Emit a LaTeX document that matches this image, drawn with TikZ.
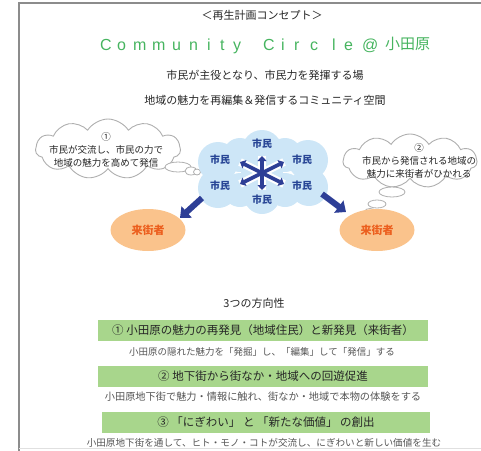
\documentclass[tikz,border=0pt]{standalone}
\usepackage{fontspec}
\setmainfont{Noto Sans CJK JP}
\newfontfamily\arialfont{Liberation Sans}
\usetikzlibrary{shapes.geometric,shapes.symbols,arrows.meta}
\definecolor{framegray}{RGB}{140,140,140}
\definecolor{cloudline}{RGB}{175,175,175}
\definecolor{cloudblue}{RGB}{205,230,247}
\definecolor{citizen}{RGB}{40,70,150}
\definecolor{arrowblue}{RGB}{45,62,150}
\definecolor{visfill}{RGB}{250,195,140}
\definecolor{vistext}{RGB}{236,95,30}
\definecolor{barfill}{RGB}{168,214,140}
\definecolor{subgray}{RGB}{85,85,85}
\definecolor{titlegreen}{RGB}{70,180,95}
\begin{document}
\begin{tikzpicture}[x=1pt,y=-1pt,
  txt/.style={inner sep=0pt, text=black!85},
  thought/.style={cloud, draw=cloudline, fill=white, line width=0.9pt, cloud puffs=11, cloud puff arc=115, inner sep=0pt},
  bubble/.style={ellipse, draw=cloudline, fill=white, line width=0.8pt, inner sep=0pt},
  lobe/.style={circle, fill=cloudblue, inner sep=0pt},
  shimin/.style={inner sep=0pt, text=citizen, font=\fontsize{10}{12}\selectfont\bfseries},
  visitor/.style={ellipse, fill=visfill, inner sep=0pt, minimum width=75pt, minimum height=42pt, text=vistext, font=\fontsize{11}{13}\selectfont\bfseries},
  bar/.style={rectangle, fill=barfill, inner sep=0pt, minimum height=21pt, text=black!85},
  subline/.style={inner sep=0pt, text=subgray},
  letter/.style={inner sep=0pt, anchor=base west, text=titlegreen, font=\arialfont\fontsize{16}{18}\selectfont},
  halo/.style={white, line width=8pt},
  star/.style={arrowblue, line width=3.6pt, {Triangle[length=5pt,width=9pt]}-{Triangle[length=5pt,width=9pt]}},
  bigarrow/.style={arrowblue, line width=6pt, -{Triangle[length=9pt,width=15pt]}}
]
\useasboundingbox (0,0) rectangle (481,450);
% frame
\draw[framegray, line width=2pt] (19,451) -- (19,3) -- (482,3);
\draw[black!12, line width=0.5pt] (19,448.5) -- (481,448.5);

% titles
\node[txt, font=\fontsize{11}{13}\selectfont] (t1) at (262,15) {＜再生計画コンセプト＞};
\foreach \ch/\xx [count=\i] in {C/100,o/117,m/133,m/152,u/172,n/189,i/207,t/220,y/233,C/263,i/281,r/294,c/310,l/332,e/344}
  \node[letter] (cc\i) at (\xx,50) {\ch};
\node[letter] (t2b) at (362,50) {@};
\node[inner sep=0pt, anchor=west, text=titlegreen, font=\fontsize{15}{17}\selectfont] (t2c) at (385,44) {小田原};
\node[txt, font=\fontsize{11}{13}\selectfont] (t3) at (265,75) {市民が主役となり、市民力を発揮する場};
\node[txt, font=\fontsize{11}{13}\selectfont] (t4) at (265,100) {地域の魅力を再編集＆発信するコミュニティ空間};

% left thought cloud
\node[thought, aspect=2.4, minimum width=145pt, minimum height=60pt] (lc) at (108,149) {};
\node[txt, align=center, font=\fontsize{9.5}{13}\selectfont] (lct) at (106,150) {①\\市民が交流し、市民の力で\\地域の魅力を高めて発信};
\node[bubble, minimum width=26pt, minimum height=10pt] (lb1) at (178,167) {};
\node[bubble, minimum width=12pt, minimum height=8pt] (lb2) at (191,171) {};
\node[bubble, minimum width=7pt, minimum height=6pt] (lb3) at (197,172) {};

% right thought cloud
\node[thought, aspect=2.6, minimum width=134pt, minimum height=54pt] (rc) at (410,161) {};
\node[txt, align=center, font=\fontsize{9.5}{13}\selectfont] (rct) at (419,161) {②\\市民から発信される地域の\\魅力に来街者がひかれる};
\node[bubble, minimum width=26pt, minimum height=10pt] (rb1) at (392,192) {};
\node[bubble, minimum width=18pt, minimum height=8pt] (rb2) at (377,204) {};
\node[bubble, minimum width=10pt, minimum height=5pt] (rb3) at (370,211) {};

% central blue cloud
\node[lobe, minimum size=42pt] (l0) at (262,172) {};
\node[lobe, minimum size=40pt] (l1) at (262,150) {};
\node[lobe, minimum size=40pt] (l2) at (218,162) {};
\node[lobe, minimum size=40pt] (l3) at (308,160) {};
\node[lobe, minimum size=40pt] (l4) at (218,188) {};
\node[lobe, minimum size=38pt] (l5) at (309,187) {};
\node[lobe, minimum size=36pt] (l6) at (262,196) {};
\node[lobe, minimum size=34pt] (l7) at (240,190) {};
\node[lobe, minimum size=34pt] (l8) at (285,190) {};
\node[lobe, minimum size=34pt] (l9) at (240,155) {};
\node[lobe, minimum size=34pt] (l10) at (285,155) {};

% star arrows
\coordinate (c) at (262,173);
\coordinate (su) at (262,156);
\coordinate (sd) at (262,190);
\coordinate (sul) at (240,162);
\coordinate (slr) at (284,184);
\coordinate (sur) at (284,162);
\coordinate (sll) at (240,184);
\draw[halo] (su) -- (sd);
\draw[halo] (sul) -- (slr);
\draw[halo] (sur) -- (sll);
\draw[star] (su) -- (sd);
\draw[star] (sul) -- (slr);
\draw[star] (sur) -- (sll);

\node[shimin] (m1) at (262,144) {市民};
\node[shimin] (m2) at (220,160) {市民};
\node[shimin] (m3) at (302,160) {市民};
\node[shimin] (m4) at (220,186) {市民};
\node[shimin] (m5) at (302,186) {市民};
\node[shimin] (m6) at (262,200) {市民};

% visitors
\node[visitor] (v1) at (148,230) {来街者};
\node[visitor] (v2) at (377,230) {来街者};
\coordinate (a1s) at (202,198);
\coordinate (a1e) at (180,218);
\coordinate (a2s) at (322,194);
\coordinate (a2e) at (346,212);
\draw[bigarrow] (a1s) -- (a1e);
\draw[bigarrow] (a2s) -- (a2e);

% three directions
\node[txt, font=\fontsize{11}{13}\selectfont] (h) at (254,303) {3つの方向性};
\node[bar, minimum width=330pt, font=\fontsize{11.5}{13}\selectfont] (b1) at (263,330) {①\ 小田原の魅力の再発見（地域住民）と新発見（来街者）};
\node[subline, font=\fontsize{9.5}{12}\selectfont] (s1) at (262,352) {小田原の隠れた魅力を「発掘」し、「編集」して「発信」する};
\node[bar, minimum width=330pt, font=\fontsize{11.5}{13}\selectfont] (b2) at (263,376) {②\ 地下街から街なか・地域への回遊促進};
\node[subline, font=\fontsize{10.2}{12}\selectfont] (s2) at (263,397) {小田原地下街で魅力・情報に触れ、街なか・地域で本物の体験をする};
\node[bar, minimum width=328pt, font=\fontsize{11.5}{13}\selectfont] (b3) at (266,422) {③\ 「にぎわい」\ と\ 「新たな価値」\ の創出};
\node[subline, font=\fontsize{9.6}{12}\selectfont] (s3) at (264,443) {小田原地下街を通して、ヒト・モノ・コトが交流し、にぎわいと新しい価値を生む};
\end{tikzpicture}
\end{document}
